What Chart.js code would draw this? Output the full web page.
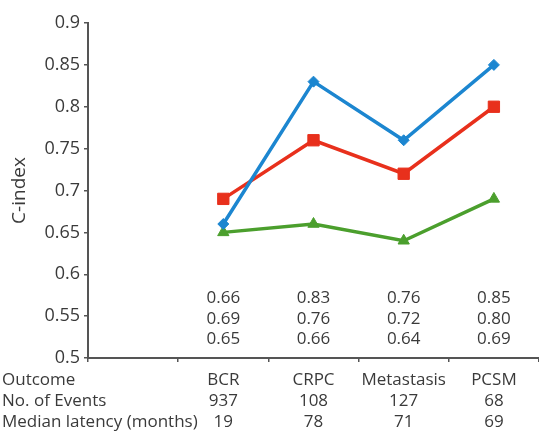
<!DOCTYPE html>
<html><head><meta charset="utf-8">
<script src="https://cdn.jsdelivr.net/npm/chart.js@4"></script>
<style>html,body{margin:0;padding:0;background:#fff}#wrap{width:539px;height:433px}</style>
</head><body><div id="wrap"><canvas id="c" width="539" height="433"></canvas></div>
<script>
const categories = ['BCR', 'CRPC', 'Metastasis', 'PCSM'];
const blueValues = [0.66, 0.83, 0.76, 0.85];
const redValues = [0.69, 0.76, 0.72, 0.80];
const greenValues = [0.65, 0.66, 0.64, 0.69];
const numEvents = ['937', '108', '127', '68'];
const medianLatency = ['19', '78', '71', '69'];
const rowLabels = ['Outcome', 'No. of Events', 'Median latency (months)'];
const yTicks = [0.5, 0.55, 0.6, 0.65, 0.7, 0.75, 0.8, 0.85, 0.9];
const yTickLabels = ['0.5', '0.55', '0.6', '0.65', '0.7', '0.75', '0.8', '0.85', '0.9'];

const FONT = '"Open Sans", "Noto Sans", sans-serif';
const TEXT = '#3a3a3a';
const AXIS = '#555555';

const tablePlugin = {
  id: 'tablePlugin',
  afterDraw(chart) {
    const ctx = chart.ctx;
    const xs = chart.scales.x;
    const bottom = chart.chartArea.bottom;
    ctx.save();
    ctx.fillStyle = TEXT;
    ctx.font = '17px ' + FONT;
    ctx.textBaseline = 'middle';
    ctx.textAlign = 'center';
    const valueRows = [blueValues, redValues, greenValues];
    const valueOffsets = [-60, -39, -19];
    valueRows.forEach((arr, r) => {
      arr.forEach((v, i) => {
        ctx.fillText(v.toFixed(2), xs.getPixelForValue(i + 1), bottom + valueOffsets[r]);
      });
    });
    const tableRows = [categories, numEvents, medianLatency];
    const tableOffsets = [22, 43, 64];
    tableRows.forEach((arr, r) => {
      arr.forEach((v, i) => {
        ctx.fillText(v, xs.getPixelForValue(i + 1), bottom + tableOffsets[r]);
      });
    });
    ctx.textAlign = 'left';
    rowLabels.forEach((t, r) => ctx.fillText(t, 2, bottom + tableOffsets[r]));
    ctx.restore();
  }
};

new Chart(document.getElementById('c'), {
  type: 'line',
  data: {
    labels: [''].concat(categories),
    datasets: [
      {
        data: [null].concat(blueValues),
        borderColor: '#1c86d0', backgroundColor: '#1c86d0',
        borderWidth: 3.5, pointStyle: 'rectRot', pointRadius: 5.5, pointBorderWidth: 1
      },
      {
        data: [null].concat(redValues),
        borderColor: '#e8301c', backgroundColor: '#e8301c',
        borderWidth: 3.5, pointStyle: 'rect', pointRadius: 8, pointBorderWidth: 1
      },
      {
        data: [null].concat(greenValues),
        borderColor: '#4b9f2d', backgroundColor: '#4b9f2d',
        borderWidth: 3.5, pointStyle: 'triangle', pointRadius: 6.5, pointBorderWidth: 1
      }
    ]
  },
  options: {
    responsive: false,
    animation: false,
    layout: { autoPadding: false, padding: { top: 23, right: -3, bottom: 71, left: 0 } },
    plugins: { legend: { display: false }, tooltip: { enabled: false } },
    scales: {
      x: {
        type: 'category',
        offset: true,
        grid: { display: true, offset: true, drawOnChartArea: false, drawTicks: true, tickLength: 4, color: AXIS, lineWidth: 1.5 },
        border: { display: true, color: AXIS, width: 2 },
        ticks: { display: false }
      },
      y: {
        min: 0.5, max: 0.9,
        afterBuildTicks: (s) => { s.ticks = yTicks.map(v => ({ value: v })); },
        afterFit: (s) => { s.width = 88; },
        grid: { display: true, drawOnChartArea: false, drawTicks: true, tickLength: 4, color: AXIS, lineWidth: 1.5 },
        border: { display: true, color: AXIS, width: 2 },
        ticks: {
          color: TEXT, padding: 4,
          font: { family: FONT, size: 18 },
          callback: (v, i) => yTickLabels[yTicks.indexOf(Math.round(v * 100) / 100)]
        },
        title: { display: true, text: 'C-index', color: TEXT, font: { family: FONT, size: 19 }, padding: { top: 8, bottom: 0 } }
      }
    }
  },
  plugins: [tablePlugin]
});
</script>
</body></html>
